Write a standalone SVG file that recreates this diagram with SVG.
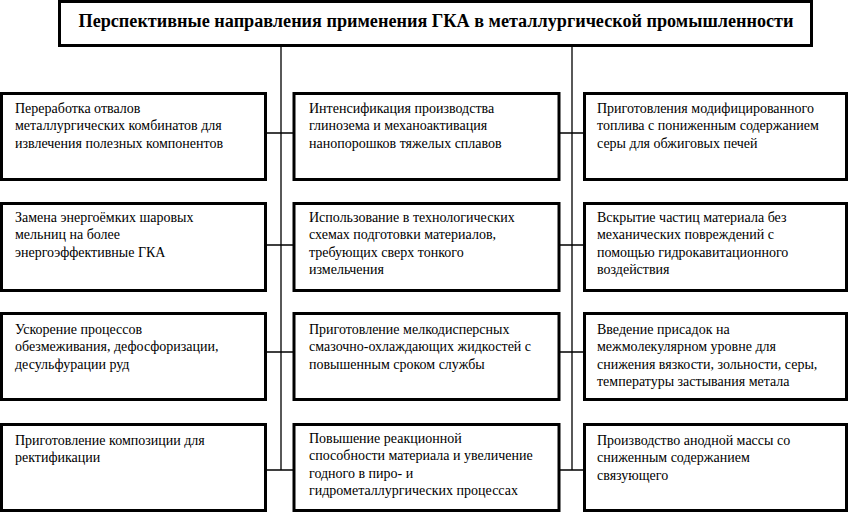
<svg xmlns="http://www.w3.org/2000/svg" width="851" height="515" viewBox="0 0 851 515">
<style>
.box{fill:#fff;stroke:#000;stroke-width:3}
.t{font-family:"Liberation Serif","Times New Roman",serif;font-size:14px;fill:#000}
.title{font-family:"Liberation Serif","Times New Roman",serif;font-size:18px;font-weight:bold;fill:#000}
.c{stroke:#000;stroke-width:1.3;fill:none}
</style>
<rect width="851" height="515" fill="#fff"/>
<g id="connectors">
<path class="c" d="M281,46V470M572,46V470"/>
<path class="c" d="M266,133H293M266,245H293M266,352H293M266,470H293"/>
<path class="c" d="M558,133H584M558,245H584M558,352H584M558,470H584"/>
</g>
<g id="title">
<rect class="box" x="59.5" y="1.5" width="752" height="44"/>
<text class="title" x="436" y="27" text-anchor="middle" textLength="715" lengthAdjust="spacingAndGlyphs">Перспективные направления применения ГКА в металлургической промышленности</text>
</g>
<g id="l1"><rect class="box" x="1.5" y="93.5" width="264" height="86"/>
<text class="t" x="15" y="113">Переработка отвалов</text>
<text class="t" x="15" y="130.3">металлургических комбинатов для</text>
<text class="t" x="15" y="147.6">извлечения полезных компонентов</text></g>
<g id="l2"><rect class="box" x="1.5" y="203.5" width="264" height="87"/>
<text class="t" x="15" y="222">Замена энергоёмких шаровых</text>
<text class="t" x="15" y="239.3">мельниц на более</text>
<text class="t" x="15" y="256.6">энергоэффективные ГКА</text></g>
<g id="l3"><rect class="box" x="1.5" y="313.5" width="264" height="86"/>
<text class="t" x="15" y="334">Ускорение процессов</text>
<text class="t" x="15" y="351.3">обезмеживания, дефосфоризации,</text>
<text class="t" x="15" y="368.6">десульфурации руд</text></g>
<g id="l4"><rect class="box" x="1.5" y="424.5" width="264" height="86"/>
<text class="t" x="15" y="445">Приготовление композиции для</text>
<text class="t" x="15" y="462.3">ректификации</text></g>
<g id="m1"><rect class="box" x="294" y="93.5" width="265" height="86"/>
<text class="t" x="309" y="113">Интенсификация производства</text>
<text class="t" x="309" y="130.3">глинозема и механоактивация</text>
<text class="t" x="309" y="147.6">нанопорошков тяжелых сплавов</text></g>
<g id="m2"><rect class="box" x="294" y="203.5" width="265" height="87"/>
<text class="t" x="309" y="222">Использование в технологических</text>
<text class="t" x="309" y="239.3">схемах подготовки материалов,</text>
<text class="t" x="309" y="256.6">требующих сверх тонкого</text>
<text class="t" x="309" y="273.9">измельчения</text></g>
<g id="m3"><rect class="box" x="294" y="313.5" width="265" height="86"/>
<text class="t" x="309" y="334">Приготовление мелкодисперсных</text>
<text class="t" x="309" y="351.3">смазочно-охлаждающих жидкостей с</text>
<text class="t" x="309" y="368.6">повышенным сроком службы</text></g>
<g id="m4"><rect class="box" x="294" y="424.5" width="265" height="86"/>
<text class="t" x="309" y="443">Повышение реакционной</text>
<text class="t" x="309" y="460.3">способности материала и увеличение</text>
<text class="t" x="309" y="477.6">годного в пиро- и</text>
<text class="t" x="309" y="494.9">гидрометаллургических процессах</text></g>
<g id="r1"><rect class="box" x="584.5" y="93.5" width="262" height="86"/>
<text class="t" x="597" y="113">Приготовления модифицированного</text>
<text class="t" x="597" y="130.3">топлива с пониженным содержанием</text>
<text class="t" x="597" y="147.6">серы для обжиговых печей</text></g>
<g id="r2"><rect class="box" x="584.5" y="203.5" width="262" height="87"/>
<text class="t" x="597" y="222">Вскрытие частиц материала без</text>
<text class="t" x="597" y="239.3">механических повреждений с</text>
<text class="t" x="597" y="256.6">помощью гидрокавитационного</text>
<text class="t" x="597" y="273.9">воздействия</text></g>
<g id="r3"><rect class="box" x="584.5" y="313.5" width="262" height="86"/>
<text class="t" x="597" y="334">Введение присадок на</text>
<text class="t" x="597" y="351.3">межмолекулярном уровне для</text>
<text class="t" x="597" y="368.6">снижения вязкости, зольности, серы,</text>
<text class="t" x="597" y="385.9">температуры застывания метала</text></g>
<g id="r4"><rect class="box" x="584.5" y="424.5" width="262" height="86"/>
<text class="t" x="597" y="445">Производство анодной массы со</text>
<text class="t" x="597" y="462.3">сниженным содержанием</text>
<text class="t" x="597" y="479.6">связующего</text></g>
</svg>
